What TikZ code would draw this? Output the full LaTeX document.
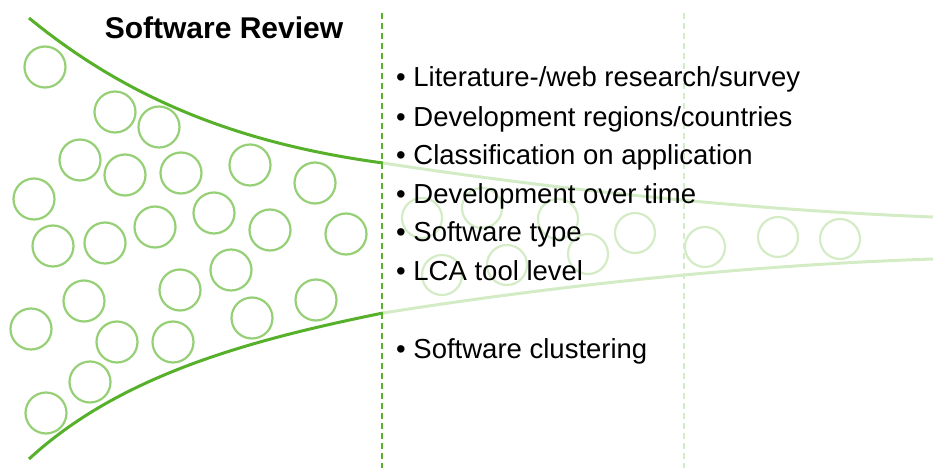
\documentclass[tikz,border=0pt]{standalone}
\usepackage{fontspec}
\setmainfont{Liberation Sans}
\definecolor{dgreen}{RGB}{86,176,42}
\definecolor{cgreen}{RGB}{150,208,118}
\definecolor{fgreen}{RGB}{212,236,198}
\tikzset{
  bubble/.style={circle,draw=cgreen,line width=2.2pt,minimum size=41pt,inner sep=0pt},
  fbubble/.style={circle,draw=fgreen,line width=2.2pt,minimum size=40pt,inner sep=0pt},
  funnel/.style={draw=dgreen,line width=3pt},
  ffunnel/.style={draw=fgreen,line width=3pt},
  divider/.style={draw=dgreen,line width=2.4pt,dash pattern=on 6pt off 4pt},
  fdivider/.style={draw=fgreen,line width=2.4pt,dash pattern=on 6pt off 4pt},
  item/.style={anchor=base west,inner sep=0pt,font=\fontsize{27.5}{30}\selectfont},
}
\begin{document}
\begin{tikzpicture}[x=1pt,y=-1pt]
\useasboundingbox (0,0) rectangle (933,468);
% faded bubbles
\foreach \p/\n in {(422,218)/f1,(482,208)/f2,(558,219)/f3,(635,233)/f4,(588,254)/f5,(442,275)/f6,(507,265)/f7,(705,247)/f8,(778,237)/f9,(840,239)/f10}
  \node[fbubble] (\n) at \p {};
% faded funnel continuation
\coordinate (tA) at (383,163);
\coordinate (tB) at (933,217);
\coordinate (bA) at (383,313);
\coordinate (bB) at (933,259);
\draw[ffunnel] (tA) .. controls (560,190) and (750,210) .. (tB);
\draw[ffunnel] (bA) .. controls (560,285) and (750,265) .. (bB);
% dividers
\coordinate (d1t) at (382,13); \coordinate (d1b) at (382,468);
\coordinate (d2t) at (684,13); \coordinate (d2b) at (684,468);
\draw[fdivider] (d2t) -- (d2b);
% bubbles
\foreach \p/\n in {(45,67)/c1,(115,112)/c2,(159,127)/c3,(80,160)/c4,(125,175)/c5,(181,173)/c6,(250,165)/c7,(315,183)/c8,(34,199)/c9,(53,246)/c10,(105,243)/c11,(155,227)/c12,(214,213)/c13,(270,230)/c14,(346,234)/c15,(84,301)/c16,(231,270)/c17,(180,290)/c18,(31,329)/c19,(117,342)/c20,(173,342)/c21,(252,318)/c22,(316,300)/c23,(90,382)/c24,(46,413)/c25}
  \node[bubble] (\n) at \p {};
% funnel
\coordinate (tS) at (29,18);
\coordinate (bS) at (29,459);
\draw[funnel] (tS) .. controls (135,105) and (250,145) .. (tA);
\draw[funnel] (bS) .. controls (120,375) and (250,340) .. (bA);
\draw[divider] (d1t) -- (d1b);
% texts
\node[anchor=base,inner sep=0pt,font=\bfseries\fontsize{30}{33}\selectfont] (title) at (224,39) {Software Review};
\node[item] (i1) at (396,87) {• Literature-/web research/survey};
\node[item] (i2) at (396,126) {• Development regions/countries};
\node[item] (i3) at (396,164) {• Classification on application};
\node[item] (i4) at (396,203) {• Development over time};
\node[item] (i5) at (396,241) {• Software type};
\node[item] (i6) at (396,280) {• LCA tool level};
\node[item] (i7) at (396,358) {• Software clustering};
\end{tikzpicture}
\end{document}
